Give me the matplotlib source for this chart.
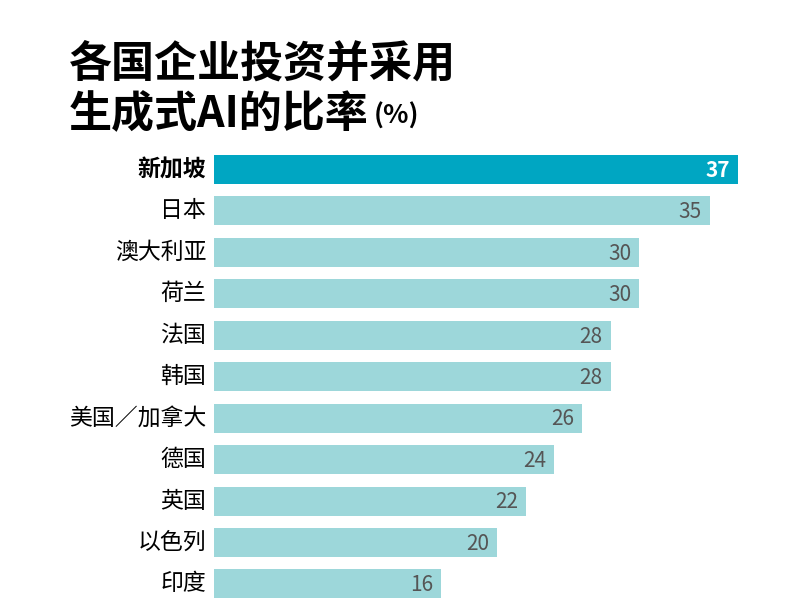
import matplotlib
matplotlib.use("Agg")
import matplotlib.pyplot as plt

plt.rcParams['font.family'] = ['Noto Sans CJK SC', 'DejaVu Sans']

countries = ["新加坡", "日本", "澳大利亚", "荷兰", "法国", "韩国", "美国／加拿大", "德国", "英国", "以色列", "印度"]
values = [37, 35, 30, 30, 28, 28, 26, 24, 22, 20, 16]
highlight = "新加坡"

W, H = 807, 604
fig = plt.figure(figsize=(W / 100, H / 100), dpi=100)
fig.patch.set_facecolor("white")

left_px, right_px = 214, 738
top_px, bot_px = 148.8, 604.7
ax = fig.add_axes([left_px / W, (H - bot_px) / H, (right_px - left_px) / W, (bot_px - top_px) / H])

dark = "#00A6C2"
light = "#9DD7DA"
colors = [dark if c == highlight else light for c in countries]
ypos = list(range(len(countries)))
ax.barh(ypos, values, height=0.7, color=colors, edgecolor="none")
ax.set_xlim(0, max(values))
ax.set_ylim(len(countries) - 0.5, -0.5)
ax.axis("off")

for y, c, v in zip(ypos, countries, values):
    hl = c == highlight
    ax.text(v - 0.55, y + 0.03, str(v), ha="right", va="center",
            fontsize=15, color="white" if hl else "#555555",
            fontweight="bold" if hl else "normal")
    ax.text(-0.55, y, c, ha="right", va="center", fontsize=16.5,
            color="black", fontweight="bold" if hl else "normal")

fig.text(69 / W, 1 - 64 / H, "各国企业投资并采用", fontsize=31, fontweight="heavy",
         ha="left", va="center", color="black")
t2 = fig.text(69 / W, 1 - 114 / H, "生成式AI的比率", fontsize=31, fontweight="heavy",
              ha="left", va="center", color="black")
fig.canvas.draw()
bb = t2.get_window_extent()
fig.text(bb.x1 / W + 0.006, 1 - 116 / H, "(%)", fontsize=19, fontweight="bold",
         ha="left", va="center", color="black")

fig.savefig("out.png", dpi=100, facecolor="white")
